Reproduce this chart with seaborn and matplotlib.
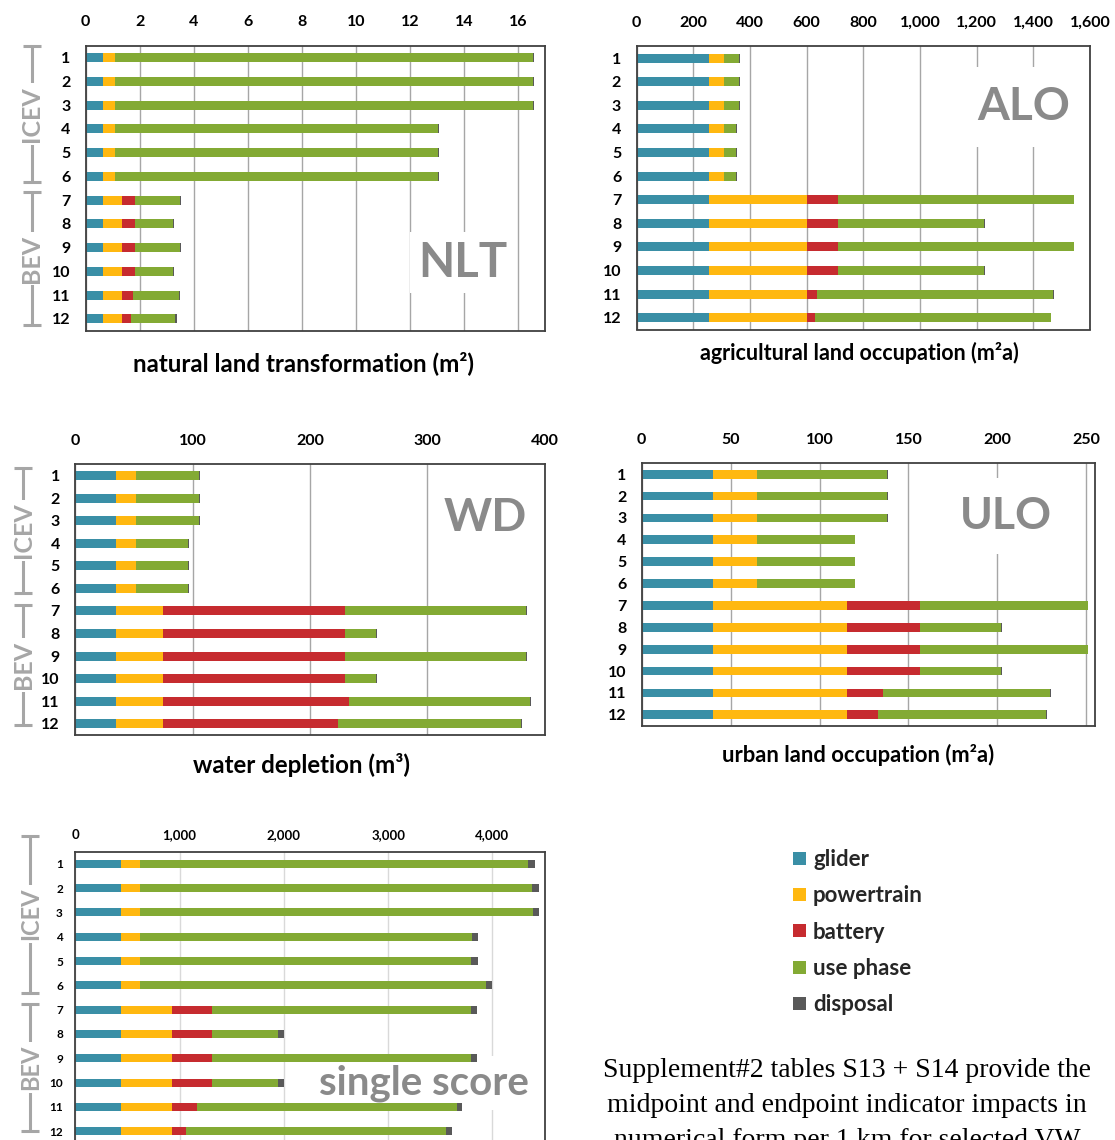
import numpy as np
import matplotlib
matplotlib.use("Agg")
import matplotlib.pyplot as plt
import matplotlib.transforms as mtransforms
from matplotlib.lines import Line2D
from matplotlib.patches import Patch
from matplotlib.ticker import MultipleLocator, FuncFormatter
import seaborn as sns

sns.set_theme(style="white")
plt.rcParams["font.family"] = ["Lato", "DejaVu Sans"]
plt.rcParams["font.weight"] = "bold"

# ---------------------------------------------------------------- data
vehicles = [str(i) for i in range(1, 13)]
groups = {"ICEV": vehicles[:6], "BEV": vehicles[6:]}
components = ["glider", "powertrain", "battery", "use phase", "disposal"]
colors = ["#3A8FA6", "#FFB810", "#C62B2F", "#83AA34", "#595959"]

# natural land transformation (m2)
nlt_glider = [0.65] * 12
nlt_powertrain = [0.42] * 6 + [0.70] * 6
nlt_battery = [0, 0, 0, 0, 0, 0, 0.48, 0.48, 0.48, 0.48, 0.40, 0.32]
nlt_use = [15.46, 15.46, 15.46, 11.96, 11.96, 11.96, 1.66, 1.38, 1.66, 1.38, 1.69, 1.65]
nlt_disposal = [0.04] * 12

# agricultural land occupation (m2a)
alo_glider = [257] * 12
alo_powertrain = [50] * 6 + [344] * 6
alo_battery = [0, 0, 0, 0, 0, 0, 110, 110, 110, 110, 36, 29]
alo_use = [55, 55, 55, 45, 45, 45, 831, 514, 831, 514, 833, 831]
alo_disposal = [3] * 12

# water depletion (m3)
wd_glider = [35] * 12
wd_powertrain = [17] * 6 + [40] * 6
wd_battery = [0, 0, 0, 0, 0, 0, 155, 155, 155, 155, 158, 149]
wd_use = [53.5, 53.5, 53.5, 43.7, 43.7, 43.7, 154, 26, 154, 26, 154.7, 155.8]
wd_disposal = [1] * 12

# urban land occupation (m2a)
ulo_glider = [40] * 12
ulo_powertrain = [25] * 6 + [75.5] * 6
ulo_battery = [0, 0, 0, 0, 0, 0, 41, 41, 41, 41, 20.2, 17.3]
ulo_use = [72.8, 72.8, 72.8, 54.7, 54.7, 54.7, 94.2, 45.7, 94.2, 45.7, 94.1, 94.8]
ulo_disposal = [0.5] * 12

# single score
ss_glider = [434] * 12
ss_powertrain = [185] * 6 + [493] * 6
ss_battery = [0, 0, 0, 0, 0, 0, 383, 383, 383, 383, 243, 137]
ss_use = [3726, 3763, 3770, 3182, 3175, 3319, 2484, 637, 2484, 633, 2487, 2490]
ss_disposal = [60, 65, 62, 60, 65, 60, 60, 55, 55, 58, 55, 55]

note = ("Supplement#2 tables S13 + S14 provide the\n"
        "midpoint and endpoint indicator impacts in\n"
        "numerical form per 1 km for selected VW")

# ---------------------------------------------------------------- style
FIG_W, FIG_H = 1115, 1140
GRID = "#A6A6A6"
FRAME = "#404040"
MARK = "#8A8A8A"
BRACKET = "#A6A6A6"

fig = plt.figure(figsize=(FIG_W / 100, FIG_H / 100), dpi=100)
fig.patch.set_facecolor("white")


def px_axes(left, top, right, bottom):
    return fig.add_axes([left / FIG_W, 1 - bottom / FIG_H,
                         (right - left) / FIG_W, (bottom - top) / FIG_H])


def draw_panel(ax, parts, xmax, step, width, tick_size, ytick_size, xpad, ypad,
               grid_color=GRID):
    cum = np.cumsum(np.array(parts, dtype=float), axis=0)
    # stacked bars: draw cumulative totals from the outermost segment inwards
    for i in reversed(range(len(components))):
        sns.barplot(x=cum[i], y=vehicles, color=colors[i], saturation=1,
                    width=width, orient="h", errorbar=None, ax=ax,
                    linewidth=0, zorder=2)
    ax.set_xlim(0, xmax)
    ax.set_ylim(len(vehicles) - 0.5, -0.5)
    ax.xaxis.set_major_locator(MultipleLocator(step))
    ax.xaxis.set_major_formatter(FuncFormatter(lambda v, p: f"{v:,.0f}"))
    ax.xaxis.tick_top()
    ax.tick_params(axis="x", length=0, pad=xpad, labelsize=tick_size,
                   labelcolor="black")
    ax.tick_params(axis="y", length=0, pad=ypad, labelsize=ytick_size,
                   labelcolor="black")
    ax.grid(axis="x", color=grid_color, lw=1)
    ax.grid(axis="y", visible=False)
    ax.set_axisbelow(True)
    for s in ax.spines.values():
        s.set_visible(True)
        s.set_color(FRAME)
        s.set_linewidth(1.3)
        s.set_zorder(3)
    ax.set_ylabel("")
    ax.set_xlabel("")


def set_label(ax, text, xfrac, yfrac, size):
    ax.xaxis.set_label_position("bottom")
    ax.set_xlabel(text, fontsize=size, fontweight="bold", color="black")
    ax.xaxis.set_label_coords(xfrac, yfrac)
    ax.xaxis.label.set_va("top")


def watermark(ax, text, x, y, size, pad):
    # sits above the gridlines but below the bars
    ax.text(x, y, text, transform=ax.transAxes, ha="center", va="center",
            fontsize=size, fontweight="bold", color=MARK, zorder=1,
            bbox=dict(fc="white", ec="none", pad=pad))


def brackets(ax, offset_px, spans, size):
    trans = mtransforms.blended_transform_factory(ax.transAxes, ax.transData)
    w = ax.get_position().width * FIG_W
    xf = -offset_px / w
    cap = 9 / w
    for name, (y0, y1) in spans.items():
        kw = dict(transform=trans, color=BRACKET, lw=2.2, clip_on=False,
                  solid_capstyle="butt")
        ax.add_line(Line2D([xf, xf], [y0, y1], **kw))
        for y in (y0, y1):
            ax.add_line(Line2D([xf - cap, xf + cap], [y, y], **kw))
        ax.text(xf, (y0 + y1) / 2, name, rotation=90, ha="center", va="center",
                transform=trans, fontsize=size, fontweight="bold",
                color=BRACKET, clip_on=False,
                bbox=dict(fc="white", ec="none", pad=2))


# ---------------------------------------------------------------- panels
ax_nlt = px_axes(85.7, 45.7, 545.4, 330.7)
draw_panel(ax_nlt, [nlt_glider, nlt_powertrain, nlt_battery, nlt_use, nlt_disposal],
           17, 2, 0.38, 11.5, 11.5, 12, 11)
set_label(ax_nlt, "natural land transformation (m²)", 0.473, -0.072, 17.4)
watermark(ax_nlt, "NLT", 0.821, 0.239, 34, 6)
brackets(ax_nlt, 54, {"ICEV": (-0.47, 5.22), "BEV": (5.68, 11.25)}, 18)

ax_alo = px_axes(636.5, 46.3, 1090, 329.5)
draw_panel(ax_alo, [alo_glider, alo_powertrain, alo_battery, alo_use, alo_disposal],
           1600, 200, 0.38, 11.5, 11.5, 12, 11)
set_label(ax_alo, "agricultural land occupation (m²a)", 0.491, -0.044, 15.5)
watermark(ax_alo, "ALO", 0.854, 0.786, 33, 14)

ax_wd = px_axes(75.2, 464.3, 544.6, 735)
draw_panel(ax_wd, [wd_glider, wd_powertrain, wd_battery, wd_use, wd_disposal],
           400, 100, 0.4, 11.5, 11.5, 12, 11)
set_label(ax_wd, "water depletion (m³)", 0.4815, -0.068, 17.4)
watermark(ax_wd, "WD", 0.873, 0.802, 33, 6)
brackets(ax_wd, 52, {"ICEV": (-0.35, 5.2), "BEV": (5.75, 11.06)}, 18)

ax_ulo = px_axes(641.7, 463.3, 1095.2, 725.7)
draw_panel(ax_ulo, [ulo_glider, ulo_powertrain, ulo_battery, ulo_use, ulo_disposal],
           255, 50, 0.4, 11.5, 11.5, 12, 11)
set_label(ax_ulo, "urban land occupation (m²a)", 0.477, -0.07, 15.8)
watermark(ax_ulo, "ULO", 0.803, 0.80, 32, 13)

ax_ss = px_axes(75.4, 851.7, 544.6, 1143.3)
draw_panel(ax_ss, [ss_glider, ss_powertrain, ss_battery, ss_use, ss_disposal],
           4500, 1000, 0.33, 9.5, 8.5, 8, 9, grid_color="#D9D9D9")
watermark(ax_ss, "single score", 0.742, 0.207, 29, 6)
brackets(ax_ss, 45, {"ICEV": (-1.16, 5.3), "BEV": (5.75, 11.0)}, 17)

# ---------------------------------------------------------------- legend + note
handles = [Patch(facecolor=c, edgecolor="none", label=n)
           for c, n in zip(colors, components)]
fig.legend(handles=handles, loc="upper left",
           bbox_to_anchor=(793 / FIG_W, 1 - 849 / FIG_H), frameon=False,
           fontsize=16, handlelength=0.6, handleheight=0.53,
           handletextpad=0.3, labelspacing=0.69, borderpad=0, borderaxespad=0)

fig.text(847 / FIG_W, 1 - 1058 / FIG_H, note, ha="center", va="top",
         fontsize=20, fontweight="normal", family=["Liberation Serif"],
         linespacing=1.53, color="black")

fig.savefig("out.png", dpi=100, facecolor="white")
